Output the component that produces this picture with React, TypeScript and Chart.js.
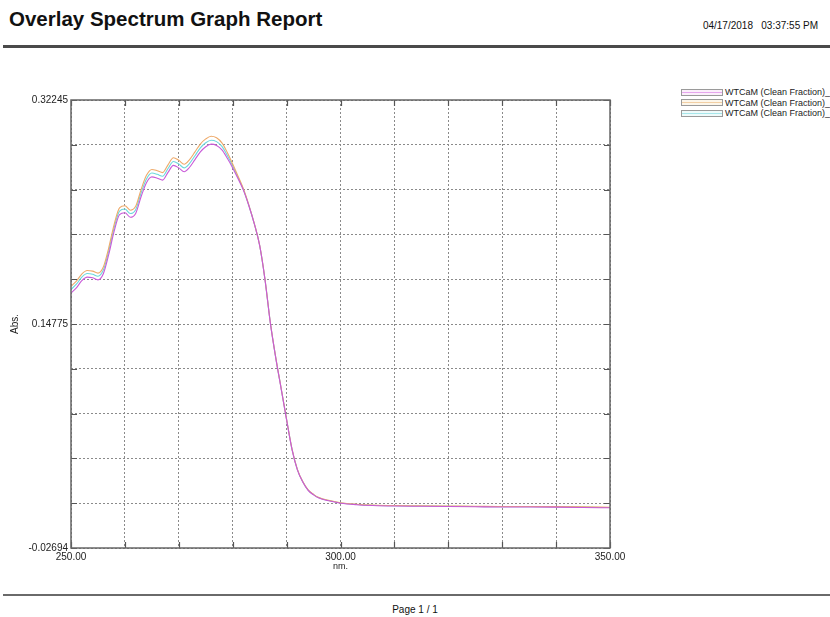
import React, { useEffect, useRef } from "react";
import { Chart, registerables } from "chart.js";

Chart.register(...registerables);

const TITLE = "Overlay Spectrum Graph Report";
const DATE_TEXT = "04/17/2018   03:37:55 PM";
const FOOTER = "Page 1 / 1";
const Y_AXIS_TITLE = "Abs.";
const X_AXIS_TITLE = "nm.";
const SERIES_NAMES = ["WTCaM (Clean Fraction)_", "WTCaM (Clean Fraction)_", "WTCaM (Clean Fraction)_"];
const SERIES_COLORS = ["#c95ad8", "#eeaa6a", "#6cd8dc"];
const LEGEND_LINE_COLORS = ["#e6a6ee", "#f2cfa4", "#a6e6ea"];
const LEGEND_FILLS = ["#fbeefb", "#fcf6ea", "#eefafa"];

const X_MIN = 250;
const X_MAX = 350;
const Y_MIN = -0.02694;
const Y_MAX = 0.32245;
const X_TICK_VALUES = [250, 300, 350];
const X_TICK_LABELS = ["250.00", "300.00", "350.00"];
const Y_TICK_LABELS = ["-0.02694", "0.14775", "0.32245"];

const WAVELENGTHS = [
  250, 251, 252, 253, 254, 255, 256, 257, 258, 259, 260, 261, 262, 263, 264, 265, 266, 267, 268, 269,
  270, 271, 272, 273, 274, 275, 276, 277, 278, 279, 280, 281, 282, 283, 284, 285, 286, 287, 288, 289,
  290, 291, 292, 293, 294, 295, 296, 298, 300, 303, 306, 310, 315, 320, 325, 330, 335, 340, 345, 350,
];

const ABS_1 = [
  0.1719, 0.176, 0.1815, 0.1843, 0.1838, 0.1822, 0.187, 0.202, 0.22, 0.233, 0.2345, 0.231, 0.234, 0.247, 0.258, 0.2625, 0.2615, 0.26, 0.266, 0.2715,
  0.2695, 0.2665, 0.27, 0.276, 0.282, 0.286, 0.288, 0.287, 0.2835, 0.277, 0.2695, 0.261, 0.252, 0.24, 0.226, 0.209, 0.182, 0.148, 0.121, 0.097,
  0.073, 0.05, 0.034, 0.0245, 0.018, 0.0145, 0.012, 0.0097, 0.008, 0.0068, 0.0062, 0.0058, 0.0056, 0.0054, 0.0052, 0.005, 0.005, 0.0049, 0.0047, 0.0044,
];

const ABS_2 = [
  0.1771, 0.1812, 0.1867, 0.1895, 0.189, 0.1874, 0.1922, 0.2072, 0.2253, 0.2384, 0.24, 0.2365, 0.2395, 0.2526, 0.2637, 0.2683, 0.2673, 0.2658, 0.2719, 0.2774,
  0.2754, 0.2724, 0.276, 0.282, 0.2881, 0.2921, 0.2942, 0.293, 0.289, 0.2815, 0.2725, 0.263, 0.253, 0.2405, 0.2262, 0.2092, 0.1824, 0.1484, 0.1214, 0.0974,
  0.0734, 0.0504, 0.0344, 0.0249, 0.0184, 0.0149, 0.0124, 0.0101, 0.0084, 0.0072, 0.0066, 0.0062, 0.006, 0.0058, 0.0056, 0.0054, 0.0054, 0.0053, 0.0051, 0.0048,
];

const ABS_3 = [
  0.1747, 0.1788, 0.1843, 0.1871, 0.1866, 0.185, 0.1898, 0.2048, 0.2228, 0.2358, 0.2374, 0.2339, 0.2369, 0.2499, 0.2609, 0.2655, 0.2645, 0.263, 0.269, 0.2745,
  0.2725, 0.2695, 0.273, 0.279, 0.2851, 0.2891, 0.2911, 0.29, 0.2863, 0.2792, 0.271, 0.262, 0.2525, 0.2402, 0.2261, 0.2091, 0.1822, 0.1482, 0.1212, 0.0972,
  0.0732, 0.0502, 0.0342, 0.0247, 0.0182, 0.0147, 0.0122, 0.0099, 0.0082, 0.007, 0.0064, 0.006, 0.0058, 0.0056, 0.0054, 0.0052, 0.0052, 0.0051, 0.0049, 0.0046,
];

const FONT = "'Liberation Sans', Arial, sans-serif";

const framePlugin = {
  id: "frameTicks",
  afterDraw(chart: any) {
    const { ctx, chartArea } = chart;
    const { left, right, top, bottom } = chartArea;
    const xs = chart.scales.x;
    const ys = chart.scales.y;
    ctx.save();
    ctx.strokeStyle = "#555";
    ctx.lineWidth = 1.2;
    ctx.beginPath();
    xs.ticks.forEach((t: any) => {
      const px = Math.round(xs.getPixelForValue(t.value)) + 0.5;
      ctx.moveTo(px, bottom);
      ctx.lineTo(px, bottom - 6);
      ctx.moveTo(px, top);
      ctx.lineTo(px, top + 6);
    });
    ys.ticks.forEach((t: any) => {
      const py = Math.round(ys.getPixelForValue(t.value)) + 0.5;
      ctx.moveTo(left, py);
      ctx.lineTo(left + 6, py);
      ctx.moveTo(right, py);
      ctx.lineTo(right - 6, py);
    });
    ctx.stroke();
    ctx.strokeStyle = "#666";
    ctx.lineWidth = 1.5;
    ctx.strokeRect(left, top, right - left, bottom - top);
    ctx.restore();
  },
};

function SpectrumChart() {
  const ref = useRef<HTMLCanvasElement | null>(null);
  useEffect(() => {
    if (!ref.current) return;
    const toPts = (ys: number[]) => WAVELENGTHS.map((x, i) => ({ x, y: ys[i] }));
    const seriesData = [ABS_1, ABS_2, ABS_3];
    const chart = new Chart(ref.current, {
      type: "line",
      data: {
        datasets: seriesData.map((d, i) => ({
          label: SERIES_NAMES[i],
          data: toPts(d),
          borderColor: SERIES_COLORS[i],
          borderWidth: 1.1,
          pointRadius: 0,
          fill: false,
          cubicInterpolationMode: "monotone" as const,
        })),
      },
      options: {
        animation: false,
        responsive: false,
        devicePixelRatio: 1,
        layout: { padding: { left: 0, top: 40, right: 40, bottom: 0 } },
        plugins: { legend: { display: false }, tooltip: { enabled: false } },
        scales: {
          x: {
            type: "linear",
            min: X_MIN,
            max: X_MAX,
            afterBuildTicks: (scale: any) => {
              const arr = [];
              const steps = 10;
              for (let k = 0; k <= steps; k++) arr.push({ value: X_MIN + ((X_MAX - X_MIN) * k) / steps });
              scale.ticks = arr;
            },
            afterFit: (scale: any) => {
              scale.height = 42;
            },
            grid: { color: "#8a8a8a", lineWidth: 1, drawTicks: false },
            border: { display: false, dash: [2, 2] },
            ticks: {
              padding: 3,
              autoSkip: false,
              maxRotation: 0,
              color: "#222",
              font: { family: FONT, size: 10 },
              callback: (v: any) => {
                const idx = X_TICK_VALUES.findIndex((t) => Math.abs(t - Number(v)) < 1e-6);
                return idx >= 0 ? X_TICK_LABELS[idx] : "";
              },
            },
            title: {
              display: true,
              text: X_AXIS_TITLE,
              color: "#222",
              font: { family: FONT, size: 9 },
              padding: { top: 0, bottom: 18 },
            },
          },
          y: {
            type: "linear",
            min: Y_MIN,
            max: Y_MAX,
            afterBuildTicks: (scale: any) => {
              const arr = [];
              const steps = 10;
              for (let k = 0; k <= steps; k++) arr.push({ value: Y_MIN + ((Y_MAX - Y_MIN) * k) / steps });
              scale.ticks = arr;
            },
            afterFit: (scale: any) => {
              scale.width = 71;
            },
            grid: { color: "#8a8a8a", lineWidth: 1, drawTicks: false },
            border: { display: false, dash: [2, 2] },
            ticks: {
              padding: 3,
              autoSkip: false,
              color: "#222",
              font: { family: FONT, size: 10 },
              callback: (_v: any, i: number) => {
                if (i === 0) return Y_TICK_LABELS[0];
                if (i === 5) return Y_TICK_LABELS[1];
                if (i === 10) return Y_TICK_LABELS[2];
                return "";
              },
            },
            title: {
              display: true,
              text: Y_AXIS_TITLE,
              color: "#222",
              font: { family: FONT, size: 10 },
              padding: { top: 9, bottom: 0 },
            },
          },
        },
      },
      plugins: [framePlugin],
    } as any);
    return () => chart.destroy();
  }, []);
  return (
    <canvas
      ref={ref}
      width={650}
      height={530}
      style={{ position: "absolute", left: 0, top: 60, width: 650, height: 530 }}
    />
  );
}

export default function App() {
  return (
    <div
      style={{
        position: "absolute",
        left: 0,
        top: 0,
        width: 830,
        height: 617,
        background: "#fff",
        fontFamily: FONT,
        color: "#111",
        overflow: "hidden",
      }}
    >
      <div style={{ position: "absolute", left: 9, top: 7, fontSize: 20.5, fontWeight: "bold", whiteSpace: "nowrap" }}>
        {TITLE}
      </div>
      <div style={{ position: "absolute", right: 12, top: 20, fontSize: 10, whiteSpace: "pre" }}>{DATE_TEXT}</div>
      <div style={{ position: "absolute", left: 3, top: 45, width: 827, height: 3, background: "#4a4a4a" }} />
      <SpectrumChart />
      <div style={{ position: "absolute", left: 681, top: 87 }}>
        {SERIES_NAMES.map((name, i) => (
          <div key={i} style={{ display: "flex", alignItems: "center", height: 10.5 }}>
            <div
              style={{
                width: 40,
                height: 5,
                border: "1px solid #9a9a9a",
                background: LEGEND_FILLS[i],
                position: "relative",
                boxSizing: "content-box",
              }}
            >
              <div
                style={{
                  position: "absolute",
                  left: 0,
                  right: 0,
                  top: 2,
                  height: 1,
                  background: LEGEND_LINE_COLORS[i],
                }}
              />
            </div>
            <span style={{ fontSize: 9, marginLeft: 2, whiteSpace: "nowrap", color: "#222" }}>{name}</span>
          </div>
        ))}
      </div>
      <div style={{ position: "absolute", left: 3, top: 594, width: 827, height: 2, background: "#6a6a6a" }} />
      <div style={{ position: "absolute", left: 0, width: 830, top: 604, fontSize: 10, textAlign: "center" }}>
        {FOOTER}
      </div>
    </div>
  );
}
